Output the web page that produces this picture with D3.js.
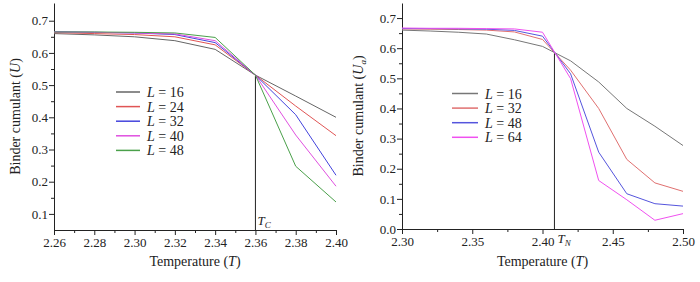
<!DOCTYPE html>
<html>
<head>
<meta charset="utf-8">
<script src="https://cdn.jsdelivr.net/npm/d3@7"></script>
<style>
  body { margin: 0; background: #fff; }
  text { font-family: "Liberation Serif", "Times New Roman", serif; fill: #222; }
</style>
</head>
<body>
<div id="chart"></div>
<script>
// left panel data
var tempsA = [2.26, 2.28, 2.30, 2.32, 2.34, 2.36, 2.38, 2.40];
var sizesA = [16, 24, 32, 40, 48];
var colorsA = ["#666666", "#e05555", "#4444dd", "#e050e0", "#4aa04a"];
var valuesA = [
    [0.660, 0.656, 0.650, 0.638, 0.611, 0.531, 0.466, 0.400],
    [0.663, 0.660, 0.657, 0.650, 0.625, 0.531, 0.435, 0.343],
    [0.666, 0.664, 0.662, 0.657, 0.632, 0.531, 0.408, 0.220],
    [0.665, 0.664, 0.662, 0.659, 0.638, 0.531, 0.345, 0.186],
    [0.665, 0.665, 0.664, 0.662, 0.648, 0.531, 0.248, 0.137]
];
// right panel data
var tempsB = [2.30, 2.32, 2.34, 2.36, 2.38, 2.40, 2.42, 2.44, 2.46, 2.48, 2.50];
var sizesB = [16, 32, 48, 64];
var colorsB = ["#777777", "#e07070", "#5555dd", "#f050f0"];
var valuesB = [
    [0.660, 0.657, 0.653, 0.647, 0.628, 0.606, 0.558, 0.488, 0.400, 0.341, 0.277],
    [0.664, 0.663, 0.662, 0.660, 0.654, 0.629, 0.527, 0.400, 0.231, 0.153, 0.125],
    [0.665, 0.665, 0.664, 0.663, 0.659, 0.640, 0.515, 0.255, 0.117, 0.084, 0.076],
    [0.667, 0.666, 0.666, 0.665, 0.664, 0.653, 0.499, 0.161, 0.097, 0.029, 0.051]
];
var xTicksA = [2.26, 2.28, 2.30, 2.32, 2.34, 2.36, 2.38, 2.40];
var yTicksA = [0.1, 0.2, 0.3, 0.4, 0.5, 0.6, 0.7];
var xTicksB = [2.30, 2.35, 2.40, 2.45, 2.50];
var yTicksB = [0.0, 0.1, 0.2, 0.3, 0.4, 0.5, 0.6, 0.7];

var svg = d3.select("#chart").append("svg")
    .attr("width", 700)
    .attr("height", 282);

function panel(opt) {
    var g = svg.append("g");
    var x = d3.scaleLinear().domain(opt.xDomain).range([opt.left, opt.right]);
    var y = d3.scaleLinear().domain(opt.yDomain).range([opt.bottom, opt.top]);

    // minor ticks first
    g.append("g")
        .attr("transform", "translate(0," + opt.bottom + ")")
        .call(d3.axisBottom(x).tickValues(opt.xMinor).tickSize(3).tickFormat(""))
        .call(function (a) { a.select(".domain").remove(); });
    g.append("g")
        .attr("transform", "translate(" + opt.left + ",0)")
        .call(d3.axisLeft(y).tickValues(opt.yMinor).tickSize(3).tickFormat(""))
        .call(function (a) { a.select(".domain").remove(); });

    var xa = g.append("g")
        .attr("transform", "translate(0," + opt.bottom + ")")
        .call(d3.axisBottom(x).tickValues(opt.xTicks).tickSize(5).tickSizeOuter(0)
            .tickFormat(d3.format(".2f")));
    var ya = g.append("g")
        .attr("transform", "translate(" + opt.left + ",0)")
        .call(d3.axisLeft(y).tickValues(opt.yTicks).tickSize(5).tickSizeOuter(0)
            .tickFormat(d3.format(".1f")));
    [xa, ya].forEach(function (a) {
        a.selectAll("text").style("font-family", "Liberation Serif").style("font-size", "13px").attr("fill", "#222");
        a.selectAll("line, path").attr("stroke", "#222");
    });
    ya.selectAll("text").attr("x", -6);
    svg.selectAll(".tick line").attr("stroke", "#222");

    // critical temperature line
    g.append("line")
        .attr("x1", x(opt.tc)).attr("x2", x(opt.tc))
        .attr("y1", opt.bottom).attr("y2", y(opt.tcVal))
        .attr("stroke", "#222").attr("stroke-width", 1);
    var tl = g.append("text")
        .attr("x", x(opt.tc) + opt.tcDx).attr("y", opt.tcY)
        .style("font-size", "13px").style("font-style", "italic").text("T");
    tl.append("tspan").attr("dy", 3).style("font-size", "9px").text(opt.tcSub);

    var line = d3.line()
        .x(function (d, i) { return x(opt.temps[i]); })
        .y(function (d) { return y(d); });

    opt.values.forEach(function (vals, i) {
        g.append("path")
            .datum(vals)
            .attr("d", line)
            .attr("fill", "none")
            .attr("stroke", opt.colors[i])
            .attr("stroke-width", 1);
    });

    // legend
    opt.sizes.forEach(function (s, i) {
        var yy = opt.legY + i * opt.legStep;
        g.append("line")
            .attr("x1", opt.legX).attr("x2", opt.legX + opt.legLen)
            .attr("y1", yy).attr("y2", yy)
            .attr("stroke", opt.colors[i]).attr("stroke-width", 1.5);
        var t = g.append("text")
            .attr("x", opt.legX + opt.legLen + opt.legGap).attr("y", yy + 5)
            .style("font-size", "14px");
        t.append("tspan").style("font-style", "italic").text("L");
        t.append("tspan").text(" = " + s);
    });

    // axis titles
    var xt = g.append("text")
        .attr("x", (opt.left + opt.right) / 2).attr("y", 266)
        .attr("text-anchor", "middle").style("font-size", "14px");
    xt.append("tspan").text("Temperature (");
    xt.append("tspan").style("font-style", "italic").text("T");
    xt.append("tspan").text(")");

    var yt = g.append("text")
        .attr("transform", "translate(" + opt.yTitleX + "," + ((opt.top + opt.bottom) / 2) + ") rotate(-90)")
        .attr("text-anchor", "middle").style("font-size", "14px");
    yt.append("tspan").text("Binder cumulant (");
    yt.append("tspan").style("font-style", "italic").text("U");
    if (opt.ySub) yt.append("tspan").attr("dy", 3).style("font-size", "9px").style("font-style", "italic").text(opt.ySub);
    yt.append("tspan").attr("dy", opt.ySub ? -3 : 0).text(")");
}

panel({
    xDomain: [2.26, 2.40], yDomain: [0.05, 0.755],
    left: 54, right: 336, top: 3, bottom: 230,
    temps: tempsA, values: valuesA, colors: colorsA, sizes: sizesA,
    xTicks: xTicksA, yTicks: yTicksA,
    xMinor: d3.range(2.27, 2.40, 0.02), yMinor: d3.range(0.15, 0.75, 0.1),
    tc: 2.36, tcVal: 0.531, tcDx: 2, tcY: 225, tcSub: "C",
    legX: 116, legLen: 24, legGap: 7, legY: 92, legStep: 14.6,
    yTitleX: 20
});

panel({
    xDomain: [2.30, 2.50], yDomain: [0.0, 0.75],
    left: 402, right: 683, top: 3, bottom: 229,
    temps: tempsB, values: valuesB, colors: colorsB, sizes: sizesB,
    xTicks: xTicksB, yTicks: yTicksB,
    xMinor: [2.325, 2.375, 2.425, 2.475], yMinor: d3.range(0.05, 0.75, 0.1),
    tc: 2.4085, tcVal: 0.583, tcDx: 3, tcY: 243, tcSub: "N",
    legX: 452, legLen: 26, legGap: 7, legY: 93.5, legStep: 14.6,
    yTitleX: 363, ySub: "a"
});
</script>
</body>
</html>
